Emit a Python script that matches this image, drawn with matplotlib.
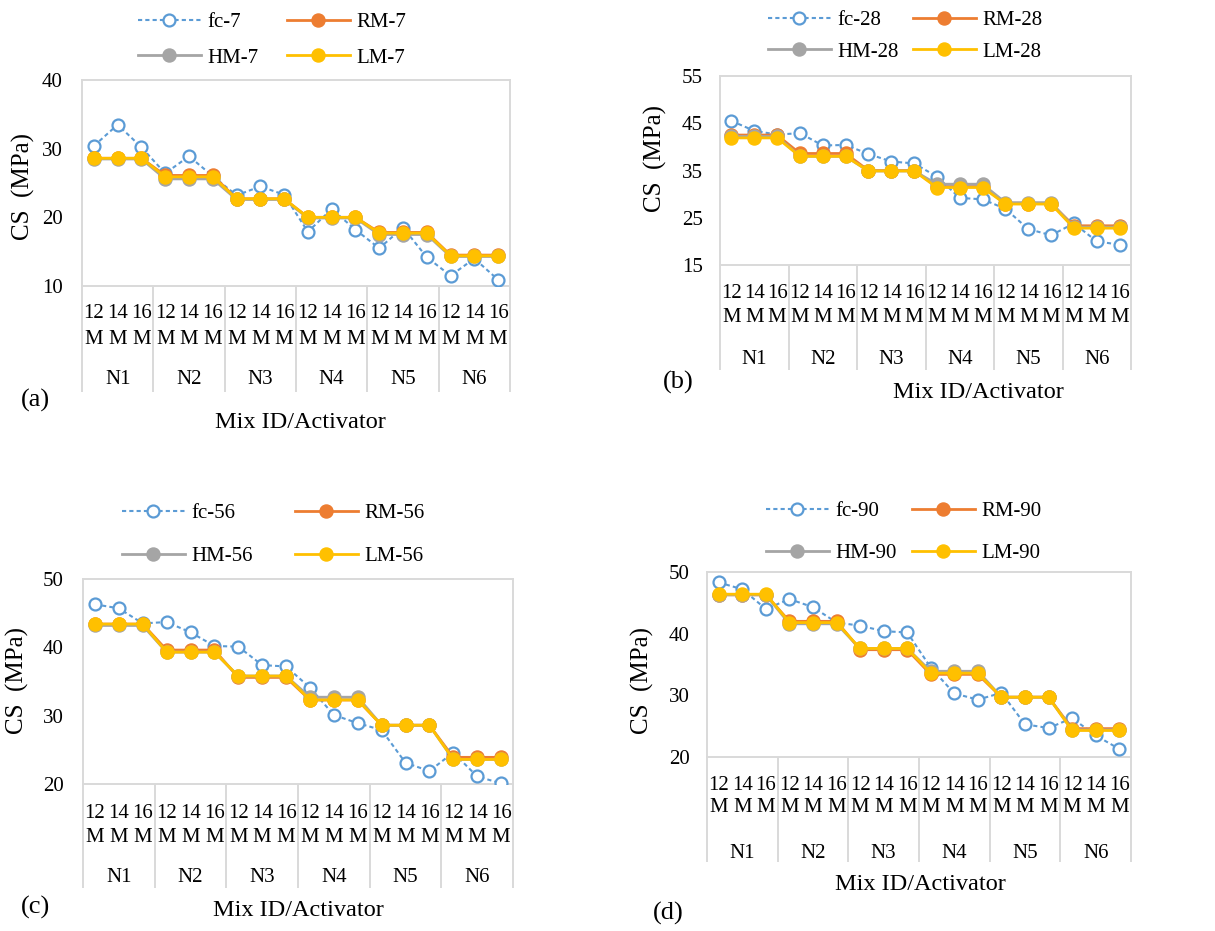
import matplotlib
matplotlib.use('Agg')
import matplotlib.pyplot as plt
from matplotlib.lines import Line2D
from matplotlib.transforms import offset_copy

plt.rcParams['font.family'] = ['Liberation Serif', 'DejaVu Serif']

# ---------------- data ----------------
mix_ids = ['N1', 'N2', 'N3', 'N4', 'N5', 'N6']
molarity = ['12', '14', '16']
unit = 'M'

fc7 = [30.4, 33.5, 30.2, 26.4, 28.9, 26.0, 23.2, 24.5, 23.3, 17.9, 21.2, 18.2, 15.5, 18.5, 14.2, 11.5, 14.0, 10.9]
RM7 = [28.6]*3 + [26.1]*3 + [22.7]*3 + [20.0]*3 + [17.8]*3 + [14.5]*3
HM7 = [28.5]*3 + [25.6]*3 + [22.6]*3 + [19.9]*3 + [17.5]*3 + [14.3]*3
LM7 = [28.6]*3 + [25.9]*3 + [22.7]*3 + [20.0]*3 + [17.7]*3 + [14.4]*3

fc28 = [45.5, 43.4, 42.6, 42.9, 40.3, 40.4, 38.5, 36.9, 36.5, 33.7, 29.2, 28.9, 26.9, 22.6, 21.3, 23.8, 20.0, 19.3]
RM28 = [42.5]*3 + [38.6]*3 + [35.0]*3 + [31.6]*3 + [28.0]*3 + [23.3]*3
HM28 = [42.2]*3 + [38.0]*3 + [34.9]*3 + [32.1]*3 + [28.2]*3 + [23.0]*3
LM28 = [41.9]*3 + [38.0]*3 + [34.9]*3 + [31.4]*3 + [27.9]*3 + [22.8]*3

fc56 = [46.3, 45.7, 43.5, 43.7, 42.2, 40.2, 40.1, 37.4, 37.2, 34.1, 30.1, 28.9, 27.9, 23.1, 21.9, 24.6, 21.1, 20.1]
RM56 = [43.4]*3 + [39.6]*3 + [35.6]*3 + [32.3]*3 + [28.6]*3 + [23.9]*3
HM56 = [43.2]*3 + [39.3]*3 + [35.8]*3 + [32.7]*3 + [28.6]*3 + [23.6]*3
LM56 = [43.4]*3 + [39.3]*3 + [35.8]*3 + [32.3]*3 + [28.6]*3 + [23.6]*3

fc90 = [48.3, 47.2, 44.0, 45.6, 44.3, 41.8, 41.3, 40.4, 40.2, 34.5, 30.3, 29.3, 30.4, 25.3, 24.7, 26.3, 23.5, 21.3]
RM90 = [46.3]*3 + [42.0]*3 + [37.4]*3 + [33.4]*3 + [29.7]*3 + [24.6]*3
HM90 = [46.3]*3 + [41.6]*3 + [37.6]*3 + [33.9]*3 + [29.7]*3 + [24.4]*3
LM90 = [46.4]*3 + [41.8]*3 + [37.6]*3 + [33.6]*3 + [29.7]*3 + [24.3]*3

# ---------------- style ----------------
W, H, DPI = 1215, 931, 100
C_FC, C_RM, C_HM, C_LM = '#5B9BD5', '#ED7D31', '#A5A5A5', '#FFC000'
C_FRAME = '#D9D9D9'
FS_TICK = 15
FS_LAB = 17.5
FS_YLAB = 18
FS_PANEL = 19

fig = plt.figure(figsize=(W / DPI, H / DPI), dpi=DPI)


def fx(px):
    return px / W


def fy(py):
    return 1 - py / H


def panel(rect_px, series, suffix, ylim, yticks, lay):
    left, top, right, bottom = rect_px
    ax = fig.add_axes([fx(left), fy(bottom), fx(right - left), (bottom - top) / H])
    fc, rm, hm, lm = series
    x = list(range(len(fc)))
    ax.plot(x, fc, color=C_FC, lw=1.5, ls=(0, (2.0, 1.5)), marker='o', ms=8.6,
            mfc='white', mec=C_FC, mew=1.6, zorder=3)
    ax.plot(x, rm, color=C_RM, lw=2.0, marker='o', ms=9.4, mfc=C_RM, mec=C_RM, zorder=4)
    ax.plot(x, hm, color=C_HM, lw=2.0, marker='o', ms=9.4, mfc=C_HM, mec=C_HM, zorder=5)
    ax.plot(x, lm, color=C_LM, lw=2.0, marker='o', ms=9.4, mfc=C_LM, mec=C_LM, zorder=6)
    ax.set_xlim(-0.5, len(fc) - 0.5)
    ax.set_ylim(*ylim)
    ax.set_yticks(yticks)
    ax.set_yticklabels([str(v) for v in yticks])
    ax.set_xticks([])
    ax.tick_params(axis='y', length=0, pad=lay['ypad'], labelsize=FS_TICK)
    for s in ax.spines.values():
        s.set_color(C_FRAME)
        s.set_linewidth(1.4)
    axh = bottom - top
    xt = ax.get_xaxis_transform()
    # category separators
    for b in range(len(mix_ids) + 1):
        xb = b * 3 - 0.5
        ax.plot([xb, xb], [0, -lay['sep'] / axh], transform=xt, clip_on=False,
                color=C_FRAME, lw=1.4, solid_capstyle='butt')
    t1 = offset_copy(xt, fig=fig, x=0, y=-lay['r1'] * 72 / DPI, units='points')
    t2 = offset_copy(xt, fig=fig, x=0, y=-lay['r2'] * 72 / DPI, units='points')
    t3 = offset_copy(xt, fig=fig, x=0, y=-lay['r3'] * 72 / DPI, units='points')
    for gi, mid in enumerate(mix_ids):
        for mi, m in enumerate(molarity):
            xi = gi * 3 + mi
            ax.text(xi, 0, m, transform=t1, ha='center', va='center', fontsize=FS_TICK)
            ax.text(xi, 0, unit, transform=t2, ha='center', va='center', fontsize=FS_TICK)
        ax.text(gi * 3 + 1, 0, mid, transform=t3, ha='center', va='center', fontsize=FS_TICK)
    # axis titles and panel label
    fig.text(fx(lay['ylab'][0]), fy(lay['ylab'][1]), 'CS  (MPa)', rotation=90,
             ha='center', va='center', fontsize=FS_YLAB)
    fig.text(fx(lay['xlab'][0]), fy(lay['xlab'][1]), 'Mix ID/Activator',
             ha='center', va='center', fontsize=FS_LAB)
    fig.text(fx(lay['plab'][0]), fy(lay['plab'][1]), lay['plab'][2],
             ha='center', va='center', fontsize=FS_PANEL)
    # legend (two columns)
    h_fc = Line2D([], [], color=C_FC, lw=1.5, ls=(0, (2.0, 1.5)), marker='o', ms=8.6,
                  mfc='white', mec=C_FC, mew=1.6)
    h_rm = Line2D([], [], color=C_RM, lw=2.0, marker='o', ms=9.4, mfc=C_RM, mec=C_RM)
    h_hm = Line2D([], [], color=C_HM, lw=2.0, marker='o', ms=9.4, mfc=C_HM, mec=C_HM)
    h_lm = Line2D([], [], color=C_LM, lw=2.0, marker='o', ms=9.4, mfc=C_LM, mec=C_LM)
    ymid = (lay['leg_rows'][0] + lay['leg_rows'][1]) / 2
    cols = [([h_fc, h_hm], ['fc-' + suffix, 'HM-' + suffix]),
            ([h_rm, h_lm], ['RM-' + suffix, 'LM-' + suffix])]
    for (hs, ls), xc in zip(cols, lay['leg_cols']):
        fig.legend(hs, ls, loc='center left', bbox_to_anchor=(fx(xc), fy(ymid)),
                   frameon=False, borderpad=0, borderaxespad=0, handlelength=3.0,
                   handletextpad=0.35, labelspacing=lay['lsp'], fontsize=FS_TICK,
                   numpoints=1)
    return ax


panel((82, 80, 510, 286), (fc7, RM7, HM7, LM7), '7', (10, 40), [10, 20, 30, 40],
      dict(ypad=14, sep=106, r1=28, r2=53, r3=94, ylab=(23, 187), xlab=(300, 423),
           plab=(35, 400, '(a)'), leg_rows=(22, 58), leg_cols=(138, 287), lsp=0.77))
panel((720, 76, 1131, 265), (fc28, RM28, HM28, LM28), '28', (15, 55), [15, 25, 35, 45, 55],
      dict(ypad=12.5, sep=105, r1=28, r2=53, r3=95, ylab=(655, 158), xlab=(978, 393),
           plab=(678, 382, '(b)'), leg_rows=(20, 52), leg_cols=(768, 913), lsp=0.57))
panel((83, 579, 513, 784), (fc56, RM56, HM56, LM56), '56', (20, 50), [20, 30, 40, 50],
      dict(ypad=14, sep=104, r1=29, r2=54, r3=94, ylab=(17, 680), xlab=(298, 910),
           plab=(35, 907, '(c)'), leg_rows=(514, 556), leg_cols=(122, 295), lsp=1.11))
panel((707, 572, 1131, 757), (fc90, RM90, HM90, LM90), '90', (20, 50), [20, 30, 40, 50],
      dict(ypad=12.5, sep=105, r1=28, r2=51, r3=96, ylab=(642, 680), xlab=(920, 885),
           plab=(668, 913, '(d)'), leg_rows=(512, 553), leg_cols=(766, 912), lsp=1.06))

fig.savefig('out.png', dpi=DPI)
